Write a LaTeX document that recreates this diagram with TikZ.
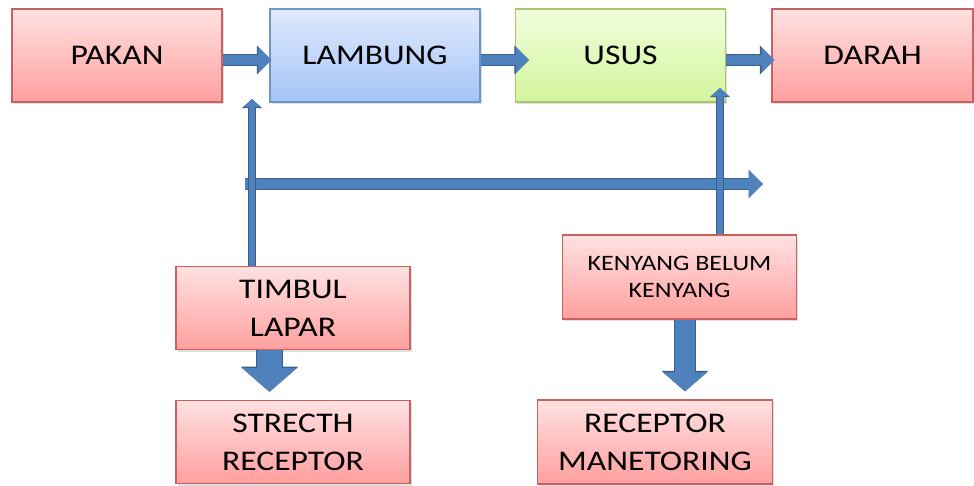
\documentclass[tikz,border=0pt]{standalone}
\usepackage{fontspec}
\setmainfont{Carlito}[FakeStretch=1.18]
\usetikzlibrary{arrows.meta,shadows}

\definecolor{boxred}{HTML}{C9625F}
\definecolor{redtop}{HTML}{FFE1E1}
\definecolor{redbot}{HTML}{FF9F9F}
\definecolor{boxblue}{HTML}{6F95C8}
\definecolor{bluetop}{HTML}{DFEAFD}
\definecolor{bluebot}{HTML}{A4C3F6}
\definecolor{boxgreen}{HTML}{A8C46E}
\definecolor{greentop}{HTML}{F1FDDC}
\definecolor{greenbot}{HTML}{D3F59C}
\definecolor{arrowfill}{HTML}{4F81BD}
\definecolor{arrowedge}{HTML}{3A5F8E}

\tikzset{
	card/.style={rectangle, inner sep=0pt, line width=1.2pt, align=center,
		font=\fontsize{28.5}{38}\selectfont,
		drop shadow={shadow xshift=1.5pt, shadow yshift=-2pt, opacity=0.25}},
	topcard/.style={card, minimum width=210pt, minimum height=93pt},
	lowcard/.style={card, minimum width=234pt, minimum height=83pt},
	redbox/.style={draw=boxred, top color=redtop, bottom color=redbot},
	bluebox/.style={draw=boxblue, top color=bluetop, bottom color=bluebot},
	greenbox/.style={draw=boxgreen, top color=greentop, bottom color=greenbot},
	flow/.style={draw=arrowfill, line width=10pt, -{Triangle[width=25pt,length=13pt]},
		preaction={draw=arrowedge, line width=12.5pt, -{Triangle[width=28pt,length=14.5pt]}}},
	thinflow/.style={draw=arrowfill, line width=6.5pt, -{Triangle[width=17pt,length=8pt]},
		preaction={draw=arrowedge, line width=8.5pt, -{Triangle[width=19.5pt,length=9pt]}}},
	bigflow/.style={draw=arrowfill, line width=#1, -{Triangle[width=2.1*#1+1pt,length=0.95*#1]},
		preaction={draw=arrowedge, line width=#1+2pt, -{Triangle[width=2.1*#1+3.5pt,length=0.95*#1+1.5pt]}}}
}

\begin{document}
\begin{tikzpicture}[x=1pt, y=-1pt, node distance=250pt]
					\useasboundingbox (0,0) rectangle (974,485);

					% top row
					\node[topcard, redbox] (pakan) at (117,55.5) {PAKAN};
					\node[topcard, bluebox] (lambung)[right of = pakan, node distance=258pt] {LAMBUNG};
					\node[topcard, greenbox] (usus)[right of = lambung, node distance=245.5pt] {USUS};
					\node[topcard, redbox, minimum width=201pt] (darah)[right of = usus, node distance=252pt] {DARAH};

					% lower boxes
					\node[lowcard, redbox] (timbul) at (293,308) {TIMBUL\\LAPAR};
					\node[lowcard, redbox] (stretch)[below of = timbul, node distance=134pt] {STRECTH\\RECEPTOR};
					\node[lowcard, redbox, minimum height=84pt, font=\fontsize{22}{27}\selectfont] (kenyang) at (679.5,277) {KENYANG BELUM\\KENYANG};
					\node[lowcard, redbox, minimum width=235pt, minimum height=84pt] (receptor)[below of = kenyang, node distance=165pt, xshift=-24.5pt] {RECEPTOR\\MANETORING};

					\coordinate (signalstart) at (245,184);
					\coordinate (signalend) at (763,184);
					\coordinate (hungertip) at (252,99);
					\coordinate (fulltip) at (720,88);

					\draw[flow] ([yshift=-4.5pt]pakan.east) -- ([xshift=2pt,yshift=-4.5pt]lambung.west);
					\draw[flow] ([yshift=-4.5pt]lambung.east) -- ([xshift=14pt,yshift=-4.5pt]usus.west);
					\draw[flow] ([yshift=-4.5pt]usus.east) -- ([xshift=3pt,yshift=-4.5pt]darah.west);
					\draw[flow, -{Triangle[width=25pt,length=14pt]}] (signalstart) -- (signalend);

					\draw[thinflow] (timbul.north -| hungertip) -- (hungertip);
					\draw[thinflow] (kenyang.north -| fulltip) -- (fulltip);

					\draw[bigflow=25pt, shorten >=8pt] ([xshift=-23.5pt]timbul.south) -- ([xshift=-23.5pt]stretch.north);
					\draw[bigflow=20pt, shorten >=8pt] ([xshift=5.5pt]kenyang.south) -- ([xshift=30pt]receptor.north);
				\end{tikzpicture}
\end{document}
